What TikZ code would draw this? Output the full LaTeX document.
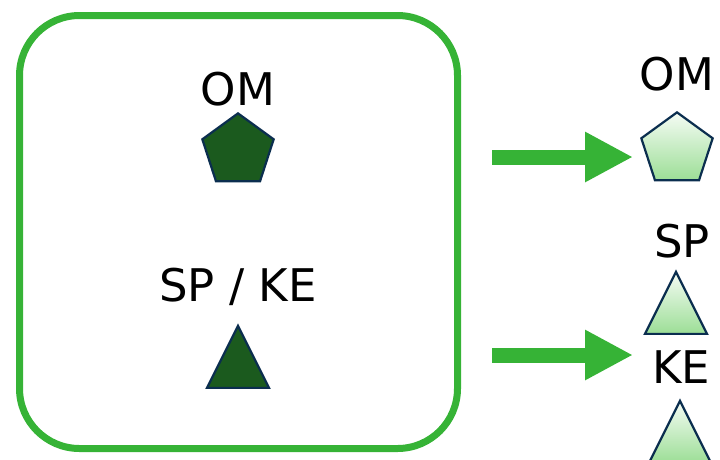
\documentclass[tikz,border=0pt]{standalone}
\usepackage{fontspec}
\setmainfont{DejaVu Sans}
\usetikzlibrary{shapes.geometric}
\usetikzlibrary{arrows.meta}
\definecolor{boxgreen}{HTML}{36B336}
\definecolor{darkfill}{HTML}{1B5A1E}
\definecolor{navyline}{HTML}{0B2E4F}
\definecolor{lightfill}{HTML}{9CDE96}
\tikzset{
    boxst/.style = {rectangle, line width=7pt, draw=boxgreen, rounded corners=60pt, inner sep=0pt},
    pentd/.style = {regular polygon, regular polygon sides=5, minimum size=75pt, inner sep=0pt, line width=2.2pt, draw=navyline, fill=darkfill},
    pentl/.style = {regular polygon, regular polygon sides=5, minimum size=75pt, inner sep=0pt, line width=2.2pt, draw=navyline, top color=lightfill!10!white, bottom color=lightfill},
    trid/.style = {isosceles triangle, shape border rotate=90, isosceles triangle stretches, minimum width=62pt, minimum height=62pt, inner sep=0pt, line width=2.2pt, draw=navyline, fill=darkfill},
    tril/.style = {isosceles triangle, shape border rotate=90, isosceles triangle stretches, minimum width=62pt, minimum height=62pt, inner sep=0pt, line width=2.2pt, draw=navyline, top color=lightfill!10!white, bottom color=lightfill},
    lbl/.style = {anchor=base, inner sep=0pt, font=\fontsize{45}{50}\selectfont, text=black},
    bigarrow/.style = {-{Triangle[length=48pt,width=47pt]}, line width=15pt, boxgreen}
}

\begin{document}
\begin{tikzpicture}[x=1pt,y=-1pt]
%
\path[use as bounding box] (0,0) rectangle (720,459);
%
\node[boxst, minimum width=438pt, minimum height=433pt] at (238.5,232) (box) {};
\node[lbl] at (238,105) (omleft) {OM};
\node[pentd, anchor=corner 1] at (238,112) (pleft) {};
\node[lbl] at (238,301) (spke) {SP / KE};
\node[trid, anchor=apex] at (238,323) (tleft) {};
%
\node[lbl] at (677,90) (omright) {OM};
\node[pentl, anchor=corner 1] at (677,111) (pright) {};
\node[lbl] at (682,257) (spright) {SP};
\node[tril, anchor=apex] at (676,269) (tsp) {};
\node[lbl] at (681,383) (keright) {KE};
\node[tril, anchor=apex] at (680,398) (tke) {};
%
\coordinate (a1s) at (492,157);
\coordinate (a1e) at (633,157);
\coordinate (a2s) at (492,355);
\coordinate (a2e) at (633,355);
\draw[bigarrow] (a1s) -- (a1e);
\draw[bigarrow] (a2s) -- (a2e);

\end{tikzpicture}
\end{document}
